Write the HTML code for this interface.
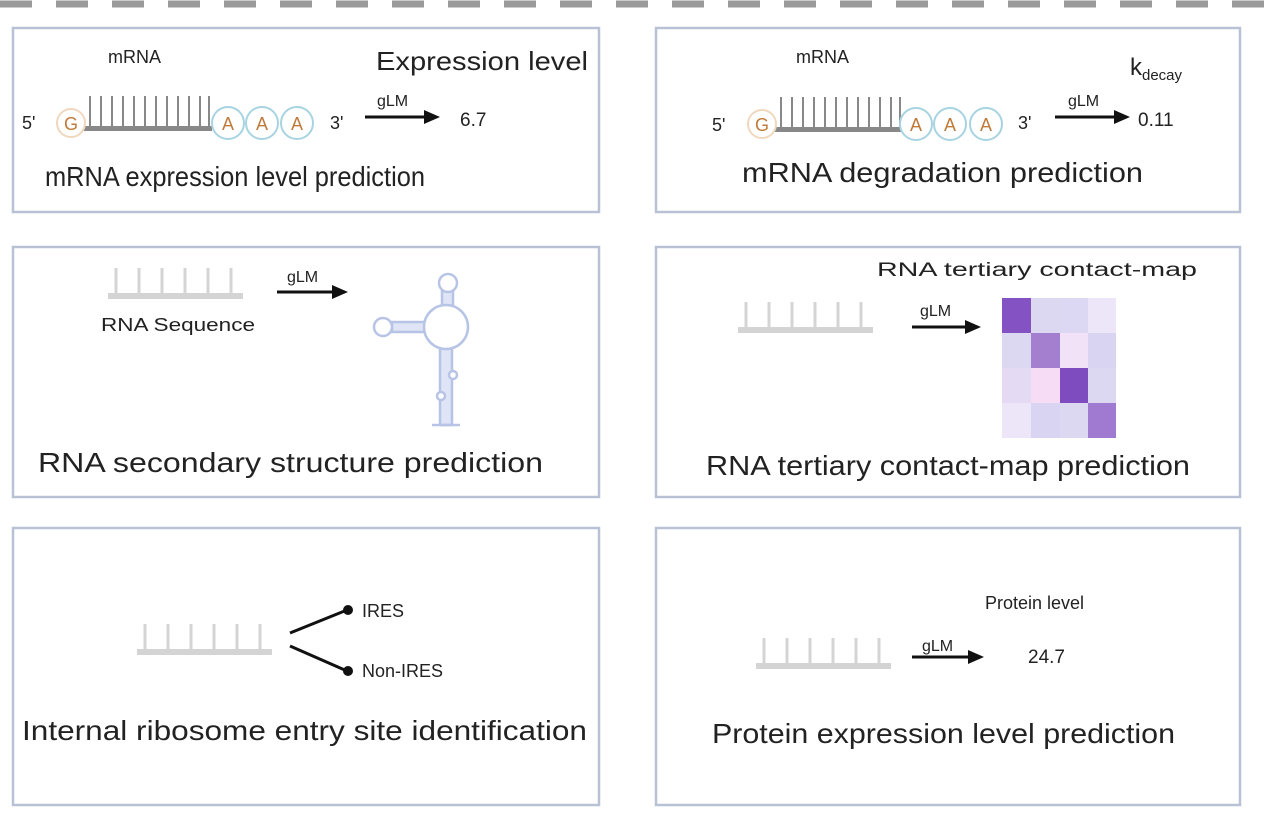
<!DOCTYPE html>
<html><head><meta charset="utf-8"><style>
html,body{margin:0;padding:0;background:#fff;width:1269px;height:823px;overflow:hidden}
svg text{font-family:"Liberation Sans",sans-serif;fill:#222}
</style></head><body>
<svg width="1269" height="823" viewBox="0 0 1269 823" xmlns="http://www.w3.org/2000/svg">
<defs>
<marker id="ah" markerWidth="16" markerHeight="14" refX="13" refY="7" orient="auto" markerUnits="userSpaceOnUse">
<path d="M0,0 L16,7 L0,14 z" fill="#111"/></marker>
<g id="comb"><rect x="0" y="25" width="135" height="6" fill="#d4d4d4"/>
<g stroke="#d4d4d4" stroke-width="3"><line x1="8" y1="0" x2="8" y2="26"/><line x1="31" y1="0" x2="31" y2="26"/><line x1="54" y1="0" x2="54" y2="26"/><line x1="77" y1="0" x2="77" y2="26"/><line x1="100" y1="0" x2="100" y2="26"/><line x1="123" y1="0" x2="123" y2="26"/></g></g>
</defs>
<line x1="0" y1="4" x2="1269" y2="4" stroke="#9a9a9a" stroke-width="7" stroke-dasharray="32 24"/>
<g fill="none" stroke="#b8c2d4" stroke-width="2.5">
<rect x="13" y="28" width="586" height="184"/><rect x="656" y="28" width="584" height="184"/>
<rect x="13" y="247" width="586" height="250"/><rect x="656" y="247" width="584" height="250"/>
<rect x="13" y="528" width="586" height="277"/><rect x="656" y="528" width="584" height="277"/>
</g>
<!-- box1 -->
<text x="108" y="63" font-size="18">mRNA</text>
<text x="376" y="70" font-size="26" textLength="212" lengthAdjust="spacingAndGlyphs">Expression level</text>
<text x="22" y="129" font-size="18">5'</text>
<rect x="82" y="126" width="130" height="5" fill="#888"/>
<g stroke="#888" stroke-width="2"><line x1="90" y1="96" x2="90" y2="127"/><line x1="101" y1="96" x2="101" y2="127"/><line x1="112" y1="96" x2="112" y2="127"/><line x1="123" y1="96" x2="123" y2="127"/><line x1="134" y1="96" x2="134" y2="127"/><line x1="145" y1="96" x2="145" y2="127"/><line x1="156" y1="96" x2="156" y2="127"/><line x1="167" y1="96" x2="167" y2="127"/><line x1="178" y1="96" x2="178" y2="127"/><line x1="189" y1="96" x2="189" y2="127"/><line x1="200" y1="96" x2="200" y2="127"/><line x1="209" y1="96" x2="209" y2="127"/></g>
<circle cx="71" cy="123" r="14" fill="#fff" stroke="#f0d8bf" stroke-width="2"/><text x="64" y="130" font-size="18" style="fill:#c07a3a">G</text>
<g fill="#fff" stroke="#a8d4e2" stroke-width="2"><circle cx="228" cy="123" r="16"/><circle cx="262" cy="123" r="16"/><circle cx="297" cy="123" r="16"/></g>
<g font-size="18"><text x="222" y="130" style="fill:#c07a3a">A</text><text x="256" y="130" style="fill:#c07a3a">A</text><text x="291" y="130" style="fill:#c07a3a">A</text></g>
<text x="330" y="129" font-size="18">3'</text>
<line x1="365" y1="117" x2="437" y2="117" stroke="#111" stroke-width="3" marker-end="url(#ah)"/>
<text x="377" y="106" font-size="16">gLM</text>
<text x="460" y="126" font-size="19">6.7</text>
<text x="45" y="186" font-size="28" textLength="380" lengthAdjust="spacingAndGlyphs">mRNA expression level prediction</text>
<!-- box2 -->
<text x="796" y="63" font-size="18">mRNA</text>
<text x="1130" y="75" font-size="24">k<tspan font-size="15" dy="5">decay</tspan></text>
<text x="712" y="131" font-size="18">5'</text>
<rect x="772" y="127" width="130" height="5" fill="#888"/>
<g stroke="#888" stroke-width="2"><line x1="781" y1="97" x2="781" y2="128"/><line x1="792" y1="97" x2="792" y2="128"/><line x1="803" y1="97" x2="803" y2="128"/><line x1="814" y1="97" x2="814" y2="128"/><line x1="825" y1="97" x2="825" y2="128"/><line x1="836" y1="97" x2="836" y2="128"/><line x1="847" y1="97" x2="847" y2="128"/><line x1="858" y1="97" x2="858" y2="128"/><line x1="869" y1="97" x2="869" y2="128"/><line x1="880" y1="97" x2="880" y2="128"/><line x1="891" y1="97" x2="891" y2="128"/><line x1="900" y1="97" x2="900" y2="128"/></g>
<circle cx="762" cy="124" r="14" fill="#fff" stroke="#f0d8bf" stroke-width="2"/><text x="755" y="131" font-size="18" style="fill:#c07a3a">G</text>
<g fill="#fff" stroke="#a8d4e2" stroke-width="2"><circle cx="916" cy="124" r="16"/><circle cx="950" cy="124" r="16"/><circle cx="986" cy="124" r="16"/></g>
<g font-size="18"><text x="910" y="131" style="fill:#c07a3a">A</text><text x="944" y="131" style="fill:#c07a3a">A</text><text x="980" y="131" style="fill:#c07a3a">A</text></g>
<text x="1018" y="129" font-size="18">3'</text>
<line x1="1055" y1="117" x2="1127" y2="117" stroke="#111" stroke-width="3" marker-end="url(#ah)"/>
<text x="1068" y="106" font-size="16">gLM</text>
<text x="1138" y="126" font-size="19">0.11</text>
<text x="742" y="182" font-size="28" textLength="401" lengthAdjust="spacingAndGlyphs">mRNA degradation prediction</text>
<!-- box3 -->
<use href="#comb" x="108" y="268"/>
<line x1="277" y1="292" x2="345" y2="292" stroke="#111" stroke-width="3" marker-end="url(#ah)"/>
<text x="287" y="282" font-size="16">gLM</text>
<text x="101" y="331" font-size="18" textLength="154" lengthAdjust="spacingAndGlyphs">RNA Sequence</text>
<g fill="#fff" stroke="#b7c4e6" stroke-width="2.5">
<rect x="440" y="345" width="12" height="80" fill="#dfe5f6"/>
<line x1="432" y1="425" x2="460" y2="425"/>
<circle cx="453" cy="375" r="4"/><circle cx="441" cy="396" r="4"/>
<rect x="392" y="322" width="36" height="10" fill="#dfe5f6"/>
<rect x="442" y="290" width="11" height="16" fill="#dfe5f6"/>
<circle cx="446" cy="327" r="22"/>
<circle cx="383" cy="327" r="9"/>
<circle cx="448" cy="283" r="9"/>
</g>
<text x="38" y="472" font-size="28" textLength="505" lengthAdjust="spacingAndGlyphs">RNA secondary structure prediction</text>
<!-- box4 -->
<text x="877" y="276" font-size="19" textLength="320" lengthAdjust="spacingAndGlyphs">RNA tertiary contact-map</text>
<use href="#comb" x="738" y="302"/>
<line x1="912" y1="327" x2="978" y2="327" stroke="#111" stroke-width="3" marker-end="url(#ah)"/>
<text x="920" y="316" font-size="16">gLM</text>
<g>
<rect x="1002" y="298" width="29" height="35" fill="#8552c4"/><rect x="1031" y="298" width="29" height="35" fill="#dcd8f2"/><rect x="1060" y="298" width="28" height="35" fill="#dcd8f4"/><rect x="1088" y="298" width="28" height="35" fill="#ece6f8"/>
<rect x="1002" y="333" width="29" height="35" fill="#dcd8f2"/><rect x="1031" y="333" width="29" height="35" fill="#a47fd0"/><rect x="1060" y="333" width="28" height="35" fill="#f2e2f8"/><rect x="1088" y="333" width="28" height="35" fill="#d8d4f2"/>
<rect x="1002" y="368" width="29" height="35" fill="#e4daf4"/><rect x="1031" y="368" width="29" height="35" fill="#f6dcf4"/><rect x="1060" y="368" width="28" height="35" fill="#7f4cc0"/><rect x="1088" y="368" width="28" height="35" fill="#dcd8f2"/>
<rect x="1002" y="403" width="29" height="35" fill="#ece6f8"/><rect x="1031" y="403" width="29" height="35" fill="#d8d4f2"/><rect x="1060" y="403" width="28" height="35" fill="#dcd8f2"/><rect x="1088" y="403" width="28" height="35" fill="#a07ad0"/>
</g>
<text x="706" y="475" font-size="28" textLength="484" lengthAdjust="spacingAndGlyphs">RNA tertiary contact-map prediction</text>
<!-- box5 -->
<use href="#comb" x="137" y="624"/>
<g stroke="#111" stroke-width="3"><line x1="290" y1="633" x2="347" y2="610"/><line x1="290" y1="646" x2="347" y2="671"/></g>
<circle cx="348" cy="610" r="5" fill="#111"/><circle cx="348" cy="671" r="5" fill="#111"/>
<text x="362" y="617" font-size="18">IRES</text>
<text x="362" y="677" font-size="18">Non-IRES</text>
<text x="22" y="740" font-size="28" textLength="565" lengthAdjust="spacingAndGlyphs">Internal ribosome entry site identification</text>
<!-- box6 -->
<text x="985" y="609" font-size="18">Protein level</text>
<use href="#comb" x="756" y="638"/>
<line x1="912" y1="657" x2="981" y2="657" stroke="#111" stroke-width="3" marker-end="url(#ah)"/>
<text x="922" y="651" font-size="16">gLM</text>
<text x="1028" y="663" font-size="19">24.7</text>
<text x="712" y="743" font-size="28" textLength="463" lengthAdjust="spacingAndGlyphs">Protein expression level prediction</text>
</svg>
</body></html>
